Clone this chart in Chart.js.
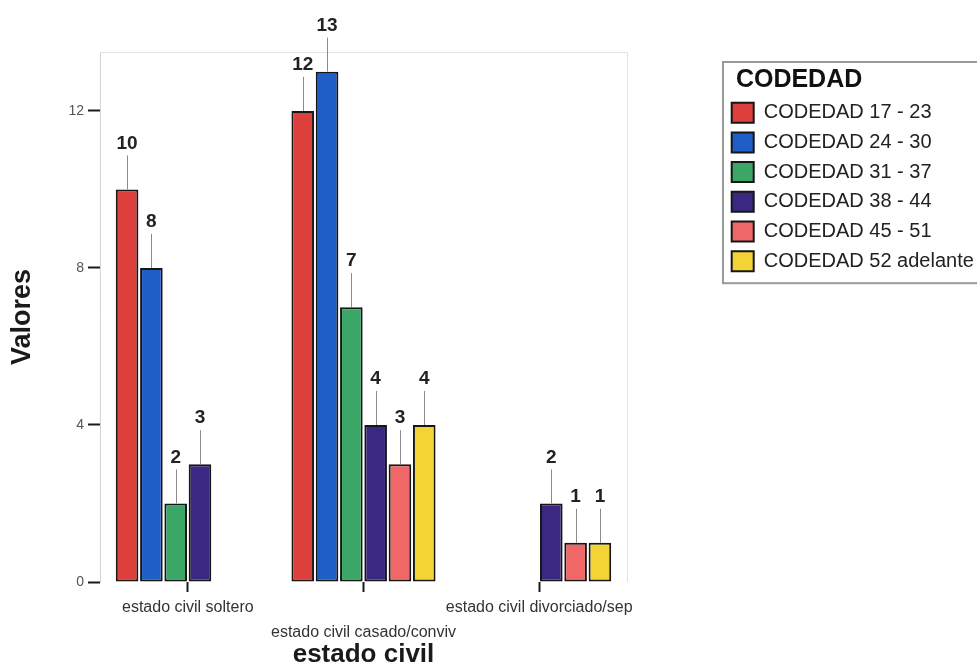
<!DOCTYPE html>
<html>
<head>
<meta charset="utf-8">
<script src="https://cdn.jsdelivr.net/npm/chart.js@4/dist/chart.umd.min.js"></script>
<style>
  html, body { margin: 0; padding: 0; background: #fff; overflow: hidden; }
  #wrap { width: 977px; height: 668px; }
</style>
</head>
<body>
<div id="wrap"><canvas id="c" width="977" height="668"></canvas></div>
<script>
// Estado civil por grupo de edad (CODEDAD)
const categories = ['estado civil soltero', 'estado civil casado/conviv', 'estado civil divorciado/sep'];
const seriesNames = ['CODEDAD 17 - 23', 'CODEDAD 24 - 30', 'CODEDAD 31 - 37', 'CODEDAD 38 - 44', 'CODEDAD 45 - 51', 'CODEDAD 52 adelante'];
const edad17a23 = [10, 12, null];
const edad24a30 = [8, 13, null];
const edad31a37 = [2, 7, null];
const edad38a44 = [3, 4, 2];
const edad45a51 = [null, 3, 1];
const edad52mas = [null, 4, 1];
const yTicks = [0, 4, 8, 12];

const seriesValues = [edad17a23, edad24a30, edad31a37, edad38a44, edad45a51, edad52mas];
const seriesColors = ['#dc3f3c', '#1f5ec6', '#3aa766', '#3a2882', '#ef6767', '#f4d434'];

const FONT = '"Liberation Sans", Arial, Helvetica, sans-serif';

// Value labels with a thin leader line above each bar
const valueLabels = {
  id: 'valueLabels',
  afterDatasetsDraw(chart) {
    const ctx = chart.ctx;
    ctx.save();
    chart.data.datasets.forEach((ds, di) => {
      const meta = chart.getDatasetMeta(di);
      meta.data.forEach((bar, i) => {
        const v = ds.data[i];
        if (v === null || v === undefined) return;
        ctx.strokeStyle = '#8a8a8a';
        ctx.lineWidth = 1;
        ctx.beginPath();
        ctx.moveTo(Math.round(bar.x) + 0.5, bar.y);
        ctx.lineTo(Math.round(bar.x) + 0.5, bar.y - 34);
        ctx.stroke();
        ctx.fillStyle = '#222';
        ctx.font = 'bold 19px ' + FONT;
        ctx.textAlign = 'center';
        ctx.textBaseline = 'middle';
        ctx.fillText(String(v), bar.x, bar.y - 46);
      });
    });
    ctx.restore();
  }
};

// Faint frame on the top and right of the plot area, box around the legend
const frames = {
  id: 'frames',
  beforeDatasetsDraw(chart) {
    const a = chart.chartArea;
    const ctx = chart.ctx;
    ctx.save();
    ctx.strokeStyle = '#e2e2e2';
    ctx.lineWidth = 1;
    ctx.beginPath();
    ctx.moveTo(a.left, a.top + 0.5);
    ctx.lineTo(a.right + 0.5, a.top + 0.5);
    ctx.lineTo(a.right + 0.5, a.bottom);
    ctx.stroke();
    ctx.restore();
  },
  afterDraw(chart) {
    const lg = chart.legend;
    if (!lg || !lg.legendHitBoxes.length) return;
    const last = lg.legendHitBoxes[lg.legendHitBoxes.length - 1];
    const ctx = chart.ctx;
    ctx.save();
    ctx.strokeStyle = '#9a9a9a';
    ctx.lineWidth = 2;
    ctx.strokeRect(lg.left + 1, lg.top + 10, chart.width, last.top + last.height + 12 - (lg.top + 10));
    ctx.restore();
  }
};

const datasets = seriesNames.map((name, k) => ({
  label: name,
  data: seriesValues[k],
  backgroundColor: seriesColors[k],
  borderColor: '#161616',
  borderWidth: 2,
  borderSkipped: false,
  categoryPercentage: 0.83,
  barPercentage: 0.93
}));

new Chart(document.getElementById('c'), {
  type: 'bar',
  data: { labels: categories, datasets },
  plugins: [frames, valueLabels],
  options: {
    responsive: false,
    animation: false,
    layout: { padding: { top: 52, left: 0, right: 0, bottom: 0 } },
    plugins: {
      tooltip: { enabled: false },
      legend: {
        position: 'right',
        align: 'start',
        maxWidth: 255,
        title: {
          display: true,
          position: 'start',
          text: '  CODEDAD',
          color: '#111',
          font: { family: FONT, size: 25, weight: 'bold', lineHeight: 1 },
          padding: { top: 16, bottom: 0 }
        },
        labels: {
          color: '#222',
          font: { family: FONT, size: 20 },
          boxWidth: 22,
          boxHeight: 20,
          padding: 9.7
        }
      }
    },
    scales: {
      x: {
        offset: true,
        grid: { display: true, drawOnChartArea: false, offset: false, tickLength: 10, tickColor: '#1a1a1a', tickWidth: 2 },
        border: { display: false },
        ticks: {
          color: '#333',
          font: { family: FONT, size: 16, lineHeight: 1.55 },
          padding: 3,
          maxRotation: 0,
          autoSkip: false,
          callback: function (v, i) { return i % 2 ? ['', categories[i]] : categories[i]; }
        },
        title: {
          display: true,
          text: 'estado civil',
          color: '#1a1a1a',
          font: { family: FONT, size: 26, weight: 'bold', lineHeight: 1 },
          padding: { top: 0, bottom: 0 }
        },
        afterFit: function (s) { s.height = 86; }
      },
      y: {
        min: 0,
        max: 13.5,
        grid: { display: true, drawOnChartArea: false, tickLength: 12, tickColor: '#1a1a1a', tickWidth: 2 },
        border: { display: true, color: '#d4d4d4', width: 1 },
        ticks: { color: '#555', font: { family: FONT, size: 14 }, padding: 4 },
        afterBuildTicks: function (s) { s.ticks = yTicks.map(v => ({ value: v })); },
        title: {
          display: true,
          text: 'Valores',
          color: '#1a1a1a',
          font: { family: FONT, size: 27, weight: 'bold', lineHeight: 1 },
          padding: { top: 9, bottom: 0 }
        },
        afterFit: function (s) { s.width = 100; }
      },
      gap: {
        type: 'linear',
        position: 'right',
        display: true,
        grid: { display: false },
        border: { display: false },
        ticks: { display: false },
        afterFit: function (s) { s.width = 95; }
      }
    }
  }
});
</script>
</body>
</html>
